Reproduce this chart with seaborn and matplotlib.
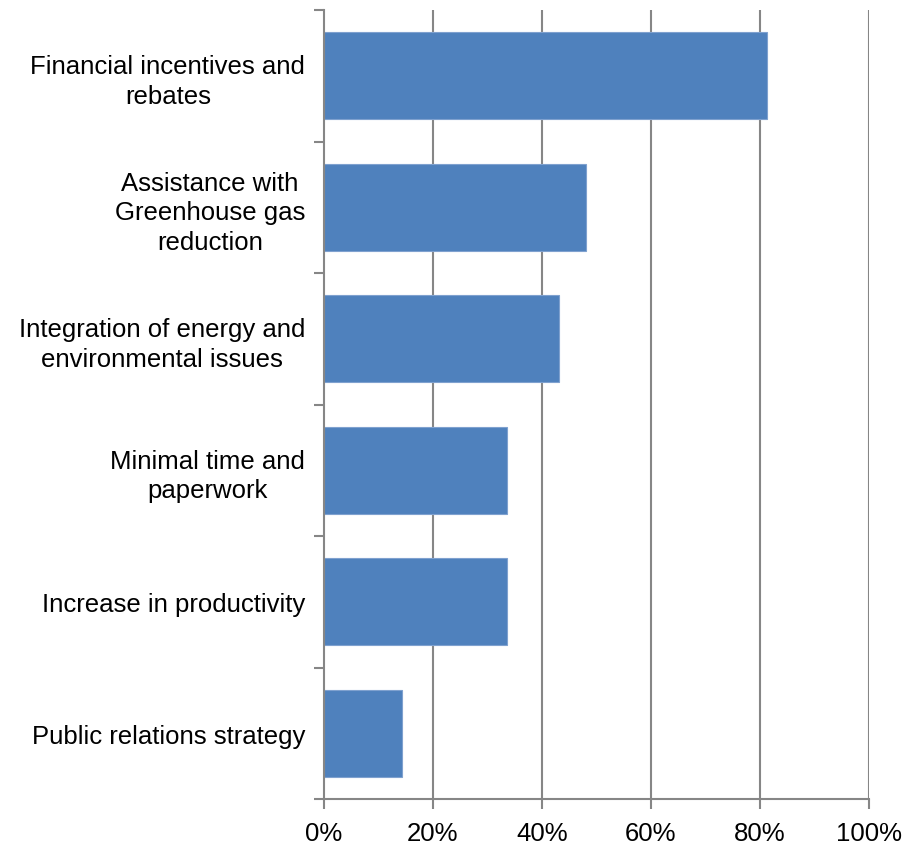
import matplotlib
matplotlib.use("Agg")
import matplotlib.pyplot as plt
import seaborn as sns
import pandas as pd
import numpy as np

categories = [
    "Financial incentives and\nrebates",
    "Assistance with\nGreenhouse gas\nreduction",
    "Integration of energy and\nenvironmental issues",
    "Minimal time and\npaperwork",
    "Increase in productivity",
    "Public relations strategy",
]
values = [81.2, 48.0, 43.2, 33.6, 33.6, 14.4]
x_ticks = [0, 20, 40, 60, 80, 100]
x_tick_labels = ["0%", "20%", "40%", "60%", "80%", "100%"]

sns.set_theme(style="white")
plt.rcParams["font.family"] = ["Liberation Sans", "DejaVu Sans"]

df = pd.DataFrame({"category": categories, "value": values})

fig = plt.figure(figsize=(9.07, 8.53), dpi=100)
ax = fig.add_axes([324 / 907, 1 - 800 / 853, (869 - 324) / 907, (800 - 11) / 853])

grid_color = "#868686"
ax.set_axisbelow(True)
for t in x_ticks[1:]:
    ax.axvline(t, color=grid_color, lw=1.5, zorder=0)

sns.barplot(data=df, x="value", y="category", orient="h", color="#4F81BD",
            saturation=1, width=0.66, ax=ax, edgecolor="#7FA1CF", linewidth=0.8)

ax.set_xlim(0, 100)
ax.set_ylim(len(categories) - 0.5, -0.5)
ax.set_xticks(x_ticks)
ax.set_xticklabels(x_tick_labels, fontsize=18.5, color="black")
ax.set_xlabel("")
ax.set_ylabel("")

ax.set_yticks(range(len(categories)))
ax.set_yticklabels(categories, fontsize=18.5, color="black", linespacing=1.28)
for lab in ax.get_yticklabels():
    lab.set_multialignment("center")
ax.set_yticks(np.arange(-0.5, len(categories) + 0.5, 1), minor=True)
ax.tick_params(axis="y", which="major", length=0, pad=13.5)
ax.tick_params(axis="y", which="minor", length=7, width=1.5, color=grid_color, left=True)
ax.tick_params(axis="x", which="major", length=7, width=1.5, color=grid_color, bottom=True, pad=9)

for side in ["top", "right"]:
    ax.spines[side].set_visible(False)
for side in ["left", "bottom"]:
    ax.spines[side].set_visible(True)
    ax.spines[side].set_color(grid_color)
    ax.spines[side].set_linewidth(1.5)

fig.savefig("out.png", dpi=100, facecolor="white")
